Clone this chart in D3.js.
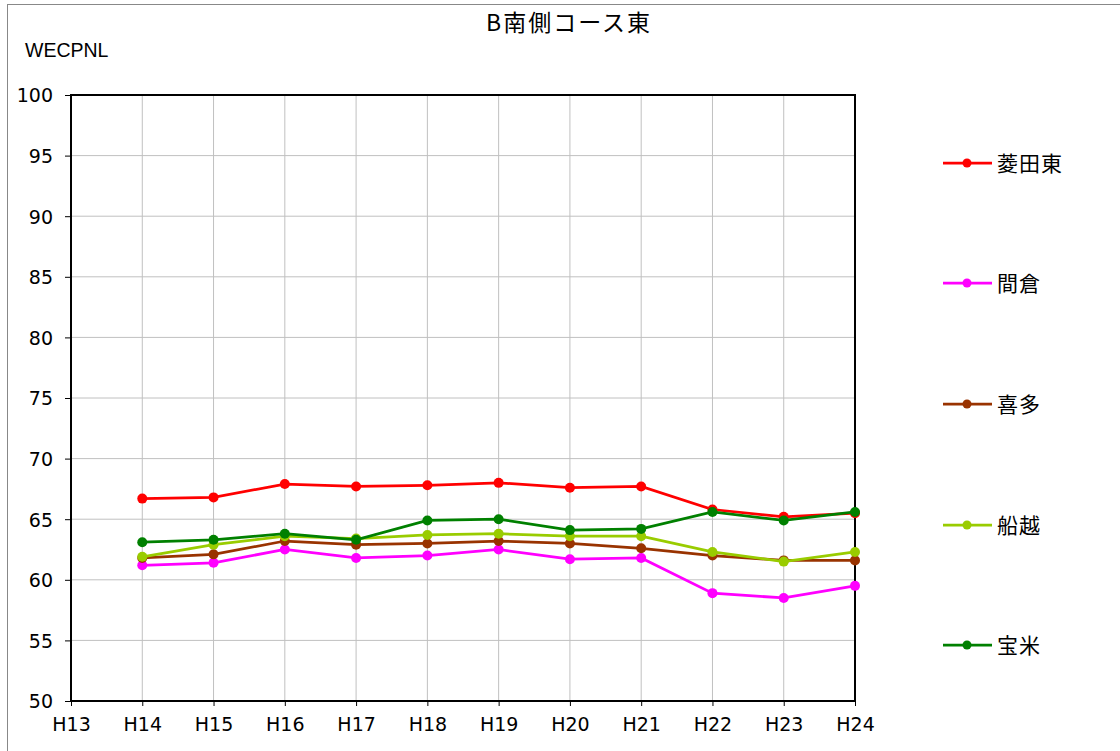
<!DOCTYPE html>
<html>
<head>
<meta charset="utf-8">
<script src="https://cdn.jsdelivr.net/npm/d3@7"></script>
<style>
  body { margin: 0; background: #fff; }
  text { fill: #000; }
  .tick text { font-family: "DejaVu Sans", sans-serif; }
  .cjk { font-family: "Noto Sans CJK JP", sans-serif; }
</style>
</head>
<body>
<div id="chart"></div>
<script>
// categories (years) and series
const years = ["H13", "H14", "H15", "H16", "H17", "H18", "H19", "H20", "H21", "H22", "H23", "H24"];
const yTicks = [50, 55, 60, 65, 70, 75, 80, 85, 90, 95, 100];

const hishidaHigashi = [null, 66.7, 66.8, 67.9, 67.7, 67.8, 68.0, 67.6, 67.7, 65.8, 65.2, 65.5];
const makura        = [null, 61.2, 61.4, 62.5, 61.8, 62.0, 62.5, 61.7, 61.8, 58.9, 58.5, 59.5];
const kita          = [null, 61.8, 62.1, 63.2, 62.9, 63.0, 63.2, 63.0, 62.6, 62.0, 61.6, 61.6];
const funakoshi     = [null, 61.9, 62.9, 63.6, 63.4, 63.7, 63.8, 63.6, 63.6, 62.3, 61.5, 62.3];
const houbei        = [null, 63.1, 63.3, 63.8, 63.3, 64.9, 65.0, 64.1, 64.2, 65.6, 64.9, 65.6];

const series = [
  { name: "菱田東", color: "#ff0000", values: hishidaHigashi },
  { name: "間倉", color: "#ff00ff", values: makura },
  { name: "喜多", color: "#993300", values: kita },
  { name: "船越", color: "#99cc00", values: funakoshi },
  { name: "宝米", color: "#008000", values: houbei }
];

const width = 1120, height = 751;
const plot = { left: 71, right: 855, top: 95, bottom: 701 };

const svg = d3.select("#chart").append("svg")
  .attr("width", width)
  .attr("height", height);

// outer chart-area frame
svg.append("rect")
  .attr("x", 7.5).attr("y", 4.5)
  .attr("width", 1200).attr("height", 800)
  .attr("fill", "none")
  .attr("stroke", "#888").attr("stroke-width", 1);

const x = d3.scalePoint().domain(years).range([plot.left, plot.right]);
const y = d3.scaleLinear().domain([50, 100]).range([plot.bottom, plot.top]);

// gridlines
svg.append("g").selectAll("line.h")
  .data(yTicks)
  .enter().append("line")
  .attr("x1", plot.left).attr("x2", plot.right)
  .attr("y1", d => y(d)).attr("y2", d => y(d))
  .attr("stroke", "#c0c0c0").attr("stroke-width", 1);

svg.append("g").selectAll("line.v")
  .data(years)
  .enter().append("line")
  .attr("x1", d => x(d)).attr("x2", d => x(d))
  .attr("y1", plot.top).attr("y2", plot.bottom)
  .attr("stroke", "#c0c0c0").attr("stroke-width", 1);

// plot frame
svg.append("rect")
  .attr("x", plot.left).attr("y", plot.top)
  .attr("width", plot.right - plot.left).attr("height", plot.bottom - plot.top)
  .attr("fill", "none").attr("stroke", "#000").attr("stroke-width", 2);

// axes
const yAxis = svg.append("g")
  .attr("transform", `translate(${plot.left},0)`)
  .call(d3.axisLeft(y).tickValues(yTicks).tickSize(6).tickPadding(12));
yAxis.select(".domain").remove();
yAxis.selectAll("text").style("font-size", "19px").attr("dy", "0.36em");

const xAxis = svg.append("g")
  .attr("transform", `translate(0,${plot.bottom})`)
  .call(d3.axisBottom(x).tickSize(5).tickPadding(12));
xAxis.select(".domain").remove();
xAxis.selectAll("text").style("font-size", "19px");
svg.selectAll(".tick line").attr("stroke", "#000");

// lines + markers
const line = d3.line()
  .defined(d => d.v != null)
  .x(d => x(d.year))
  .y(d => y(d.v));

series.forEach(s => {
  const pts = years.map((yr, i) => ({ year: yr, v: s.values[i] }));
  svg.append("path")
    .datum(pts)
    .attr("d", line)
    .attr("fill", "none")
    .attr("stroke", s.color)
    .attr("stroke-width", 2.75);
  svg.append("g").selectAll("circle")
    .data(pts.filter(d => d.v != null))
    .enter().append("circle")
    .attr("cx", d => x(d.year))
    .attr("cy", d => y(d.v))
    .attr("r", 5)
    .attr("fill", s.color);
});

// legend
const legendY = [163, 283, 404, 525, 645];
const legend = svg.append("g");
series.forEach((s, i) => {
  const g = legend.append("g").attr("transform", `translate(943,${legendY[i]})`);
  g.append("line").attr("x1", 0).attr("x2", 49).attr("y1", 0).attr("y2", 0)
    .attr("stroke", s.color).attr("stroke-width", 2.75);
  g.append("circle").attr("cx", 24).attr("cy", 0).attr("r", 4.5).attr("fill", s.color);
  g.append("text").attr("class", "cjk")
    .attr("x", 54).attr("y", 0).attr("dy", "0.36em")
    .style("font-size", "21px").style("letter-spacing", "1px")
    .text(s.name);
});

// title and unit label
svg.append("text").attr("class", "cjk")
  .attr("x", 569).attr("y", 31)
  .attr("text-anchor", "middle")
  .style("font-size", "23px").style("letter-spacing", "2px")
  .text("B南側コース東");

svg.append("text")
  .attr("x", 25).attr("y", 57)
  .style("font-family", "'Liberation Sans', Arial, sans-serif")
  .style("font-size", "19.5px")
  .text("WECPNL");
</script>
</body>
</html>
